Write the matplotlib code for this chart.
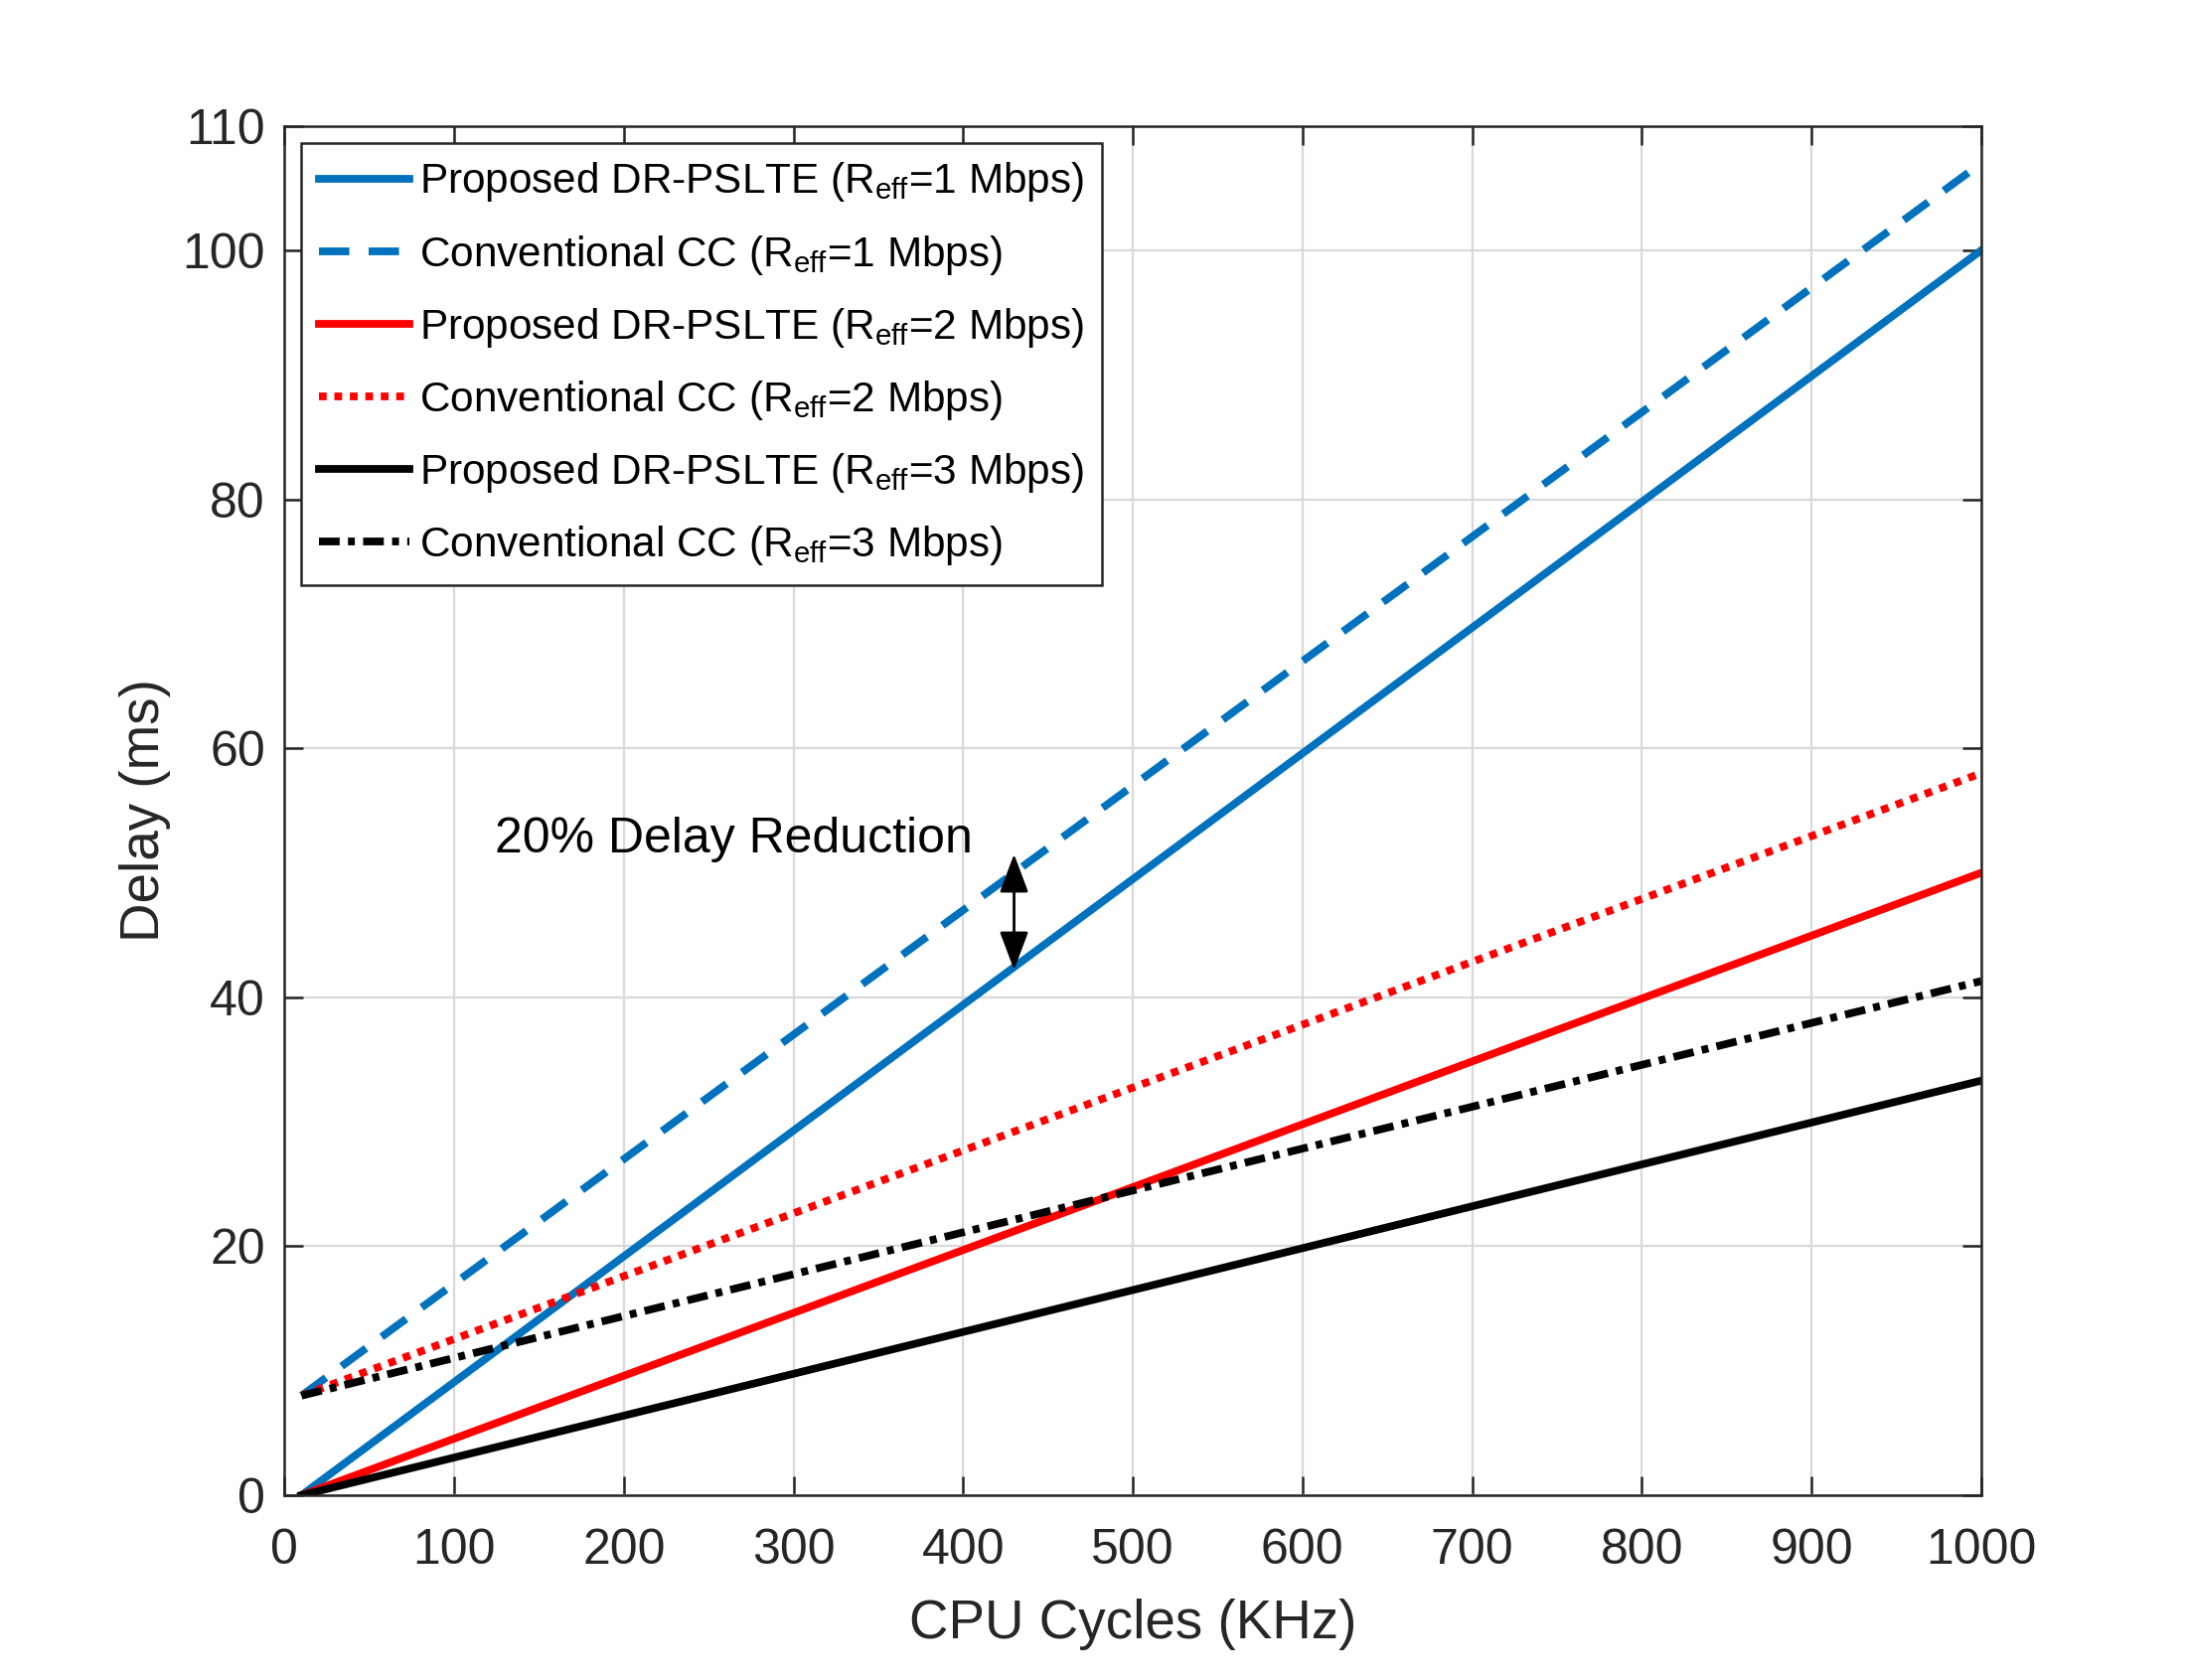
import matplotlib
matplotlib.use("Agg")
import matplotlib.pyplot as plt

plt.rcParams['font.family'] = ['Liberation Sans', 'DejaVu Sans']
plt.rcParams['mathtext.fontset'] = 'custom'
plt.rcParams['mathtext.rm'] = 'Liberation Sans'
plt.rcParams['mathtext.it'] = 'Liberation Sans:italic'
plt.rcParams['mathtext.bf'] = 'Liberation Sans:bold'
plt.rcParams['lines.scale_dashes'] = False

# Data
cpu_cycles = [10, 1000]
proposed_1 = [0, 100]
conventional_1 = [8, 107]
proposed_2 = [0, 50]
conventional_2 = [8, 58]
proposed_3 = [0, 33.3]
conventional_3 = [8, 41.3]

labels = [
    'Proposed DR-PSLTE (R$_{\\mathrm{eff}}$=1 Mbps)',
    'Conventional CC (R$_{\\mathrm{eff}}$=1 Mbps)',
    'Proposed DR-PSLTE (R$_{\\mathrm{eff}}$=2 Mbps)',
    'Conventional CC (R$_{\\mathrm{eff}}$=2 Mbps)',
    'Proposed DR-PSLTE (R$_{\\mathrm{eff}}$=3 Mbps)',
    'Conventional CC (R$_{\\mathrm{eff}}$=3 Mbps)',
]
xticks = [0, 100, 200, 300, 400, 500, 600, 700, 800, 900, 1000]
yticks = [0, 20, 40, 60, 80, 100, 110]

blue = '#0072BD'
red = '#FF0000'
black = '#000000'
axc = '#262626'
lw = 2.8

fig = plt.figure(figsize=(2203/200, 1691/200), dpi=200)
ax = fig.add_axes([0.13, 0.11, 0.775, 0.815])

ax.plot(cpu_cycles, proposed_1, color=blue, lw=lw, label=labels[0])
ax.plot(cpu_cycles, conventional_1, color=blue, lw=lw, dashes=(11, 7), label=labels[1])
ax.plot(cpu_cycles, proposed_2, color=red, lw=lw, label=labels[2])
ax.plot(cpu_cycles, conventional_2, color=red, lw=lw, dashes=(2.8, 2.8), label=labels[3])
ax.plot(cpu_cycles, proposed_3, color=black, lw=lw, label=labels[4])
ax.plot(cpu_cycles, conventional_3, color=black, lw=lw, dashes=(7.5, 3, 2.5, 3), label=labels[5])

ax.set_xlim(0, 1000)
ax.set_ylim(0, 110)
ax.set_xticks(xticks)
ax.set_yticks(yticks)
ax.grid(True, color='#d9d9d9', lw=0.8)
ax.set_axisbelow(True)
for s in ax.spines.values():
    s.set_color(axc)
    s.set_linewidth(0.9)
ax.tick_params(direction='in', length=7, width=0.9, colors=axc, labelsize=18,
               top=True, right=True)
ax.tick_params(axis='x', pad=12)
ax.tick_params(axis='y', pad=7)
ax.set_xlabel('CPU Cycles (KHz)', fontsize=19.7, color=axc, labelpad=9)
ax.set_ylabel('Delay (ms)', fontsize=19.7, color=axc, labelpad=4)

leg = ax.legend(loc='upper left', fontsize=15.2, frameon=True, fancybox=False,
                edgecolor=axc, framealpha=1, handlelength=2.15, handletextpad=0.25,
                labelspacing=0.69, borderpad=0.42, borderaxespad=0.4)
leg.get_frame().set_linewidth(0.9)

ax.text(124, 52.7, '20% Delay Reduction', fontsize=18, color='black',
        va='center', ha='left')
ax.annotate('', xy=(430, 51.5), xytext=(430, 42.2),
            arrowprops=dict(arrowstyle='<|-|>,head_length=1.2,head_width=0.45',
                            color='black', lw=1.0, shrinkA=0, shrinkB=0))

fig.savefig('out.png', dpi=200, facecolor='white')
